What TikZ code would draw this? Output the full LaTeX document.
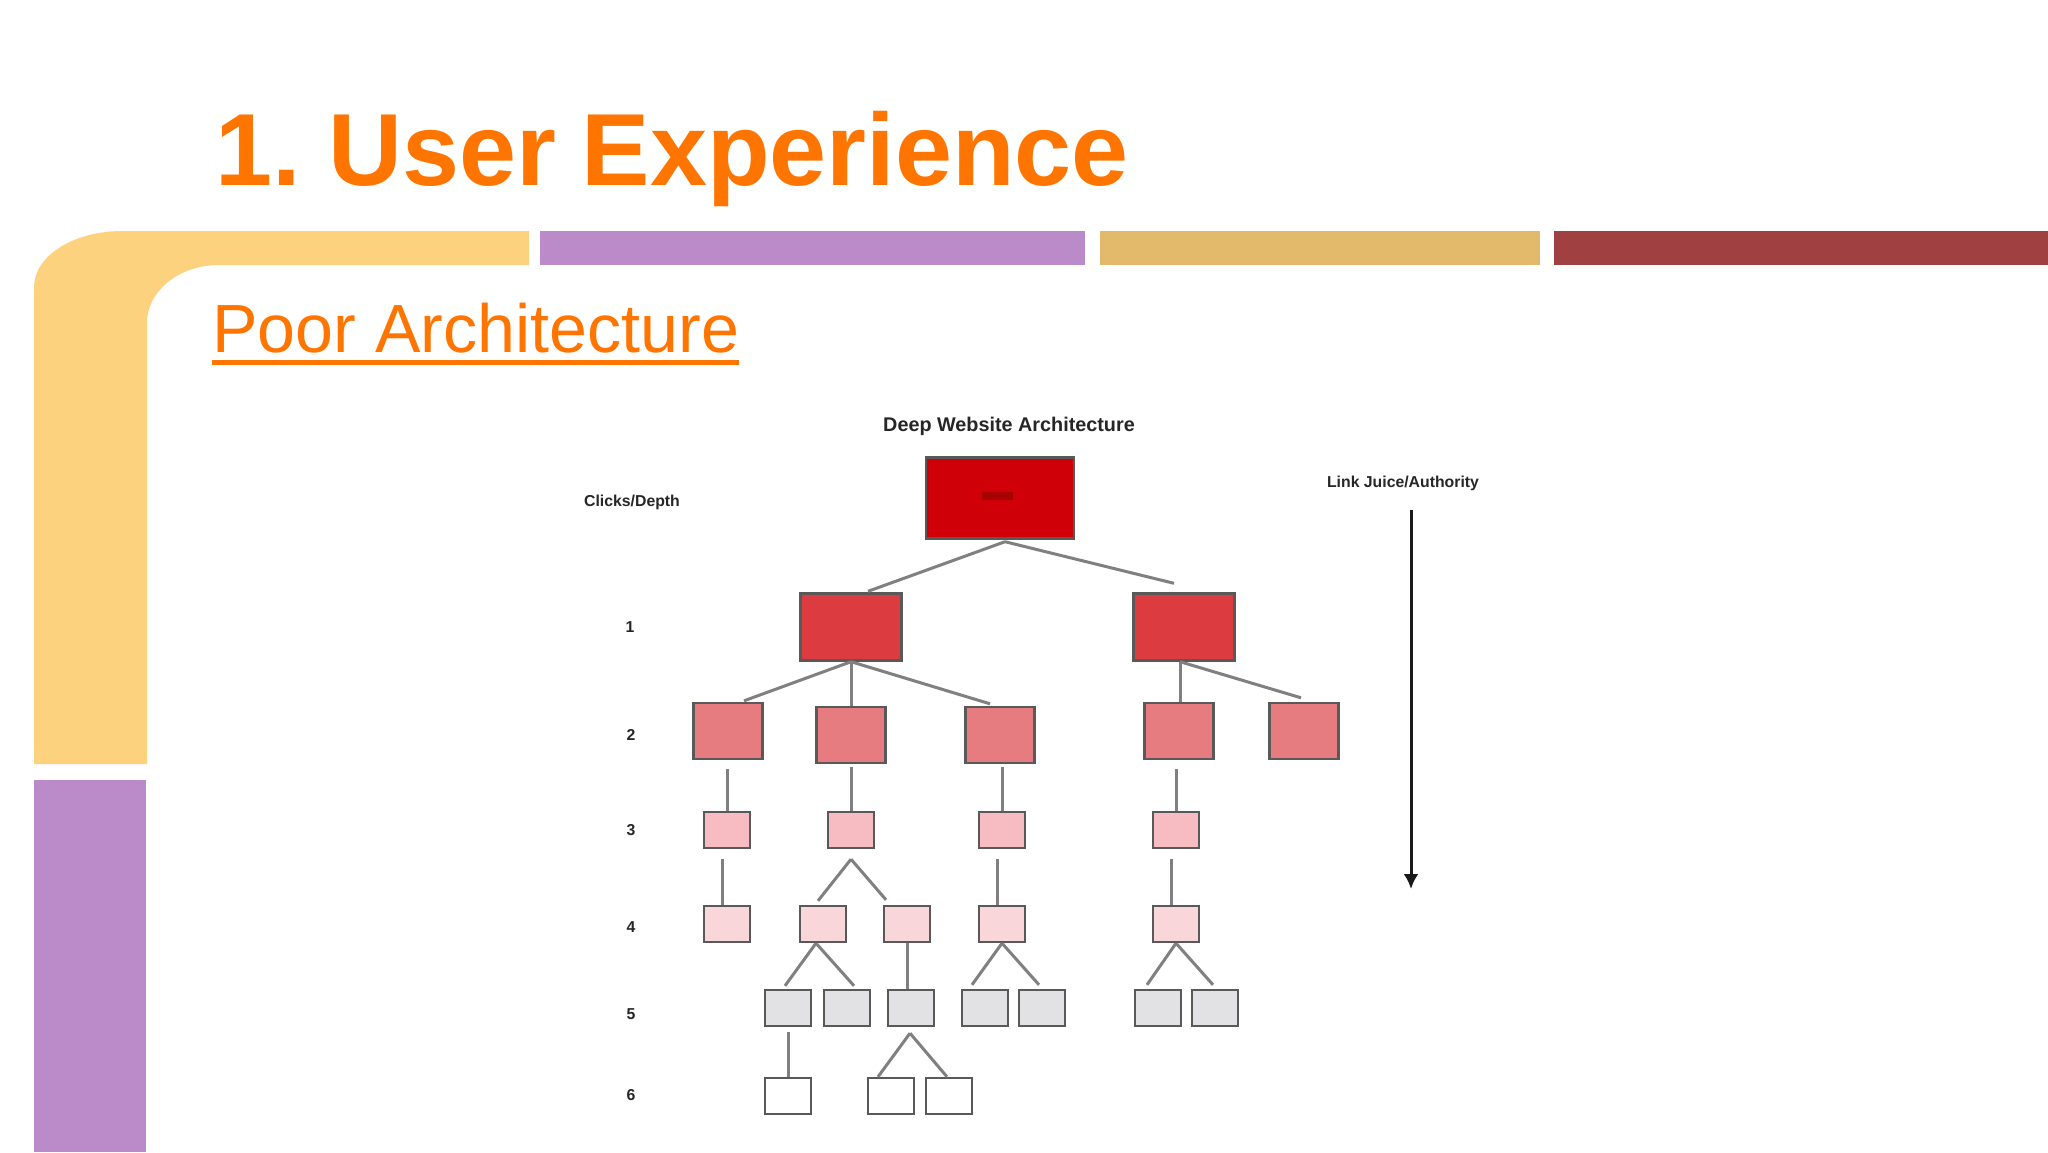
\documentclass[tikz,border=0pt]{standalone}
\usepackage{fontspec}
\usetikzlibrary{arrows.meta}
\setmainfont{Liberation Sans}
\definecolor{headorange}{HTML}{FF7500}
\definecolor{bandyellow}{HTML}{FDD27F}
\definecolor{bandpurple}{HTML}{BB8AC9}
\definecolor{bandgold}{HTML}{E3BA6C}
\definecolor{bandred}{HTML}{A04040}
\definecolor{depthzero}{HTML}{D00008}
\definecolor{depthone}{HTML}{DC3C40}
\definecolor{depthtwo}{HTML}{E67C80}
\definecolor{depththree}{HTML}{F6BCC2}
\definecolor{depthfour}{HTML}{F8D6DA}
\definecolor{depthfive}{HTML}{E2E2E4}
\tikzset{
	pagebox/.style={x=1pt,y=-1pt},
	box/.style={draw=black!65,line width=2.4pt,inner sep=0pt},
	bigbox/.style={box,fill=depthtwo,minimum width=69pt,minimum height=56pt},
	smallbox/.style={box,minimum width=46pt,minimum height=36pt},
	link/.style={draw=black!50,line width=3pt},
	label/.style={font=\bfseries\fontsize{15.8}{16}\selectfont,text=black!85,inner sep=0pt}
}
\begin{document}
\begin{tikzpicture}[pagebox]
		\useasboundingbox (0,0) rectangle (2048,1152);
		\fill[white] (0,0) rectangle (2048,1152);

		% bands
		\fill[bandyellow] (34,764) -- (34,287) arc[start angle=180,end angle=90,x radius=88,y radius=-56] -- (529,231) -- (529,265) -- (219,265) arc[start angle=90,end angle=180,x radius=72,y radius=-58] -- (147,764) -- cycle;
		\fill[bandpurple] (540,231) rectangle (1085,265);
		\fill[bandgold] (1100,231) rectangle (1540,265);
		\fill[bandred] (1554,231) rectangle (2048,265);
		\fill[bandpurple] (34,780) rectangle (146,1152);

		% headings
		\node[anchor=base west,inner sep=0pt,text=headorange,font=\bfseries\fontsize{102.5}{103}\selectfont] (title) at (215,185) {1. \kern-10pt User\kern-3pt{} Experience};
		\node[anchor=base west,inner sep=0pt,text=headorange,font=\fontsize{68.2}{69}\selectfont] (poor) at (212,352) {Poor Architecture};
		\draw[headorange,line width=5pt] ([yshift=-10pt]poor.base west) -- ([yshift=-10pt]poor.base east);

		% labels
		\node[label,font=\bfseries\fontsize{19.8}{20}\selectfont] (deep) at (1009,426) {Deep Website Architecture};
		\node[label] (clicks) at (632,502) {Clicks/Depth};
		\node[label] (juice) at (1403,483) {Link Juice/Authority};
		\node[label] (n1) at (630,627) {1};
		\node[label] (n2) at (631,735) {2};
		\node[label] (n3) at (631,830) {3};
		\node[label] (n4) at (631,927) {4};
		\node[label] (n5) at (631,1014) {5};
		\node[label] (n6) at (631,1095) {6};

		% clicks 0 and 1
		\node[box,fill=depthzero,minimum width=148pt,minimum height=81pt] (root) at (1000,498) {};
		\fill[red!65!black] (982,492) rectangle (1013,500);
		\node[box,fill=depthone,minimum width=101pt,minimum height=67pt] (a) at (851,627) {};
		\node[box,fill=depthone,minimum width=101pt,minimum height=67pt] (b) at (1184,627) {};

		% clicks 2
		\node[bigbox] (c) at (728,731) {};
		\node[bigbox] (d) at (851,735) {};
		\node[bigbox] (e) at (1000,735) {};
		\node[bigbox] (f) at (1179,731) {};
		\node[bigbox] (g) at (1304,731) {};

		% clicks 3
		\foreach \name/\xpos in {h/727,i/851,j/1002,k/1176}
			\node[smallbox,fill=depththree] (\name) at (\xpos,830) {};

		% clicks 4
		\foreach \name/\xpos in {l/727,m/823,n/907,o/1002,p/1176}
			\node[smallbox,fill=depthfour] (\name) at (\xpos,924) {};

		% clicks 5
		\foreach \name/\xpos in {q/788,r/847,s/911,t/985,u/1042,v/1158,w/1215}
			\node[smallbox,fill=depthfive] (\name) at (\xpos,1008) {};

		% clicks 6
		\foreach \name/\xpos in {x/788,y/891,z/949}
			\node[smallbox,fill=white] (\name) at (\xpos,1096) {};

		% links
		\draw[link] ([xshift=5pt,yshift=-2pt]root.south) -- ([xshift=17pt,yshift=1pt]a.north);
		\draw[link] ([xshift=5pt,yshift=-2pt]root.south) -- ([xshift=-10pt,yshift=9pt]b.north);

		\draw[link] (a.south) -- ([xshift=16pt,yshift=1pt]c.north);
		\draw[link] (a.south) -- (d.north);
		\draw[link] (a.south) -- ([xshift=-10pt,yshift=2pt]e.north);

		\draw[link] ([xshift=-4pt]b.south) -- ([xshift=1pt]f.north);
		\draw[link] ([xshift=-4pt]b.south) -- ([xshift=-3pt,yshift=4pt]g.north);

		\draw[link,shorten <=9pt] ([xshift=-1pt]c.south) -- (h.north);
		\draw[link,shorten <=3pt] (d.south) -- (i.north);
		\draw[link,shorten <=3pt] ([xshift=2pt]e.south) -- (j.north);
		\draw[link,shorten <=9pt] ([xshift=-3pt]f.south) -- (k.north);

		\draw[link,shorten <=10pt] ([xshift=-5pt]h.south) -- ([xshift=-5pt]l.north);
		\draw[link] ([yshift=-10pt]i.south) -- ([xshift=-5pt,yshift=4pt]m.north);
		\draw[link] ([yshift=-10pt]i.south) -- ([xshift=-21pt,yshift=5pt]n.north);
		\draw[link,shorten <=10pt] ([xshift=-5pt]j.south) -- ([xshift=-5pt]o.north);
		\draw[link,shorten <=10pt] ([xshift=-5pt]k.south) -- ([xshift=-5pt]p.north);

		\draw[link] ([xshift=-7pt]m.south) -- ([xshift=-3pt,yshift=3pt]q.north);
		\draw[link] ([xshift=-7pt]m.south) -- ([xshift=7pt,yshift=3pt]r.north);
		\draw[link] (n.south) -- ([xshift=-4pt]s.north);
		\draw[link] (o.south) -- ([xshift=-13pt,yshift=4pt]t.north);
		\draw[link] (o.south) -- ([xshift=-3pt,yshift=4pt]u.north);
		\draw[link] (p.south) -- ([xshift=-11pt,yshift=4pt]v.north);
		\draw[link] (p.south) -- ([xshift=-2pt,yshift=4pt]w.north);

		\draw[link,shorten <=5pt] (q.south) -- (x.north);
		\draw[link] ([xshift=-1pt,yshift=-6pt]s.south) -- ([xshift=-13pt]y.north);
		\draw[link] ([xshift=-1pt,yshift=-6pt]s.south) -- ([xshift=-2pt]z.north);

		% juice arrow
		\coordinate (juicetop) at (1411,510);
		\coordinate (juiceend) at (1411,889);
		\draw[black!90,line width=3pt,-{Latex[length=15pt,width=15pt]}] (juicetop) -- (juiceend);

	\end{tikzpicture}
\end{document}
